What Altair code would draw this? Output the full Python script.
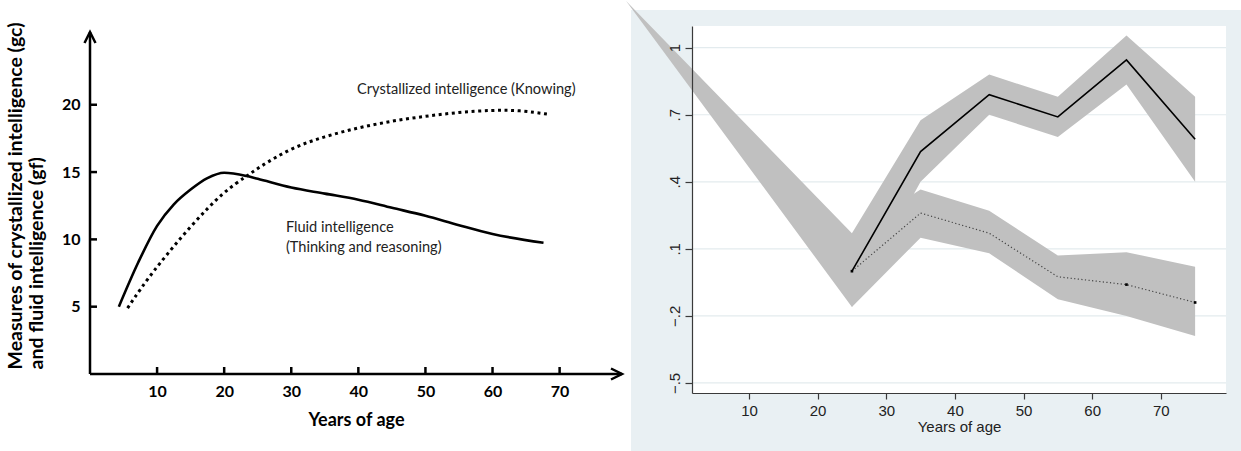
import altair as alt
import pandas as pd

# ---------------- left panel: schematic growth curves ----------------
fluid_age = [4.3, 7.2, 10, 12.5, 15, 17.5, 20, 23.4, 25, 30, 35, 40, 45, 50, 55, 60, 67.6]
fluid_score = [5.0, 8.3, 11.0, 12.6, 13.7, 14.55, 14.95, 14.7, 14.5, 13.85, 13.4, 12.95,
               12.35, 11.75, 11.05, 10.4, 9.75]
cryst_age = [5.6, 7.5, 10, 15, 20, 23.4, 25, 30, 35, 40, 45, 50, 55, 60, 64, 68.5]
cryst_score = [4.9, 6.3, 8.0, 11.0, 13.6, 14.7, 15.3, 16.8, 17.65, 18.3, 18.8, 19.15,
               19.45, 19.6, 19.6, 19.28]

left_x_ticks = [10, 20, 30, 40, 50, 60, 70]
left_y_ticks = [5, 10, 15, 20]

left_notes = ["Crystallized intelligence (Knowing)", "Fluid intelligence", "(Thinking and reasoning)"]
left_note_age = [39.8, 29.2, 29.2]
left_note_score = [21.1, 10.85, 9.36]

left_x_end = 79.3    # arrow tip of the age axis
left_y_end = 25.4    # arrow tip of the score axis

# ---------------- right panel: estimates with confidence bands ----------------
age_groups = [25, 35, 45, 55, 65, 75]
solid_est = [0.0, 0.535, 0.79, 0.69, 0.945, 0.59]
solid_lo = [-0.16, 0.40, 0.70, 0.60, 0.835, 0.40]
solid_hi = [0.17, 0.675, 0.88, 0.78, 1.055, 0.78]
dot_est = [0.0, 0.26, 0.17, -0.025, -0.06, -0.14]
dot_lo = [-0.16, 0.15, 0.08, -0.125, -0.20, -0.29]
dot_hi = [0.17, 0.365, 0.27, 0.07, 0.085, 0.02]
band_origin_age = -7.9
band_origin_value = 1.209

right_x_ticks = [10, 20, 30, 40, 50, 60, 70]
right_y_ticks = [-0.5, -0.2, 0.1, 0.4, 0.7, 1.0]

HUM = "Lato"
SANS = "Liberation Sans"
BAND = "#c0c0c0"
PANEL_BG = "#e9f0f3"
GRID = "#e3ebee"
AXIS = "#3a3a3a"

# ======================= left chart =======================
LW, LH = 532, 348
lx = alt.Scale(domain=[0, 79.3], nice=False, zero=False)
ly = alt.Scale(domain=[0, 25.85], nice=False, zero=False)

left_xaxis = alt.Axis(values=left_x_ticks, domain=False, ticks=False, grid=False,
                      labelFont=HUM, labelFontWeight="bold", labelFontSize=16,
                      labelColor="black", labelPadding=9,
                      title="Years of age", titleFont=HUM, titleFontWeight="bold",
                      titleFontSize=18, titleColor="black", titlePadding=12)
left_yaxis = alt.Axis(values=left_y_ticks, domain=False, ticks=False, grid=False,
                      labelFont=HUM, labelFontWeight="bold", labelFontSize=16,
                      labelColor="black", labelPadding=10,
                      title=["Measures of crystallized intelligence (gc)",
                             "and fluid intelligence (gf)"],
                      titleFont=HUM, titleFontWeight="bold", titleFontSize=19.5,
                      titleColor="black", titleAngle=270, titleAlign="left",
                      titleBaseline="top", titleX=-84, titleY=343, titleLineHeight=21)

LX = alt.X("age:Q", scale=lx, axis=left_xaxis)
LY = alt.Y("score:Q", scale=ly, axis=left_yaxis)

fluid = pd.DataFrame({"age": fluid_age, "score": fluid_score})
cryst = pd.DataFrame({"age": cryst_age, "score": cryst_score})
notes = pd.DataFrame({"age": left_note_age, "score": left_note_score, "label": left_notes})

one_row = pd.DataFrame({"k": [0]})
anchor = alt.Chart(one_row).mark_rect(color="white").encode(
    x=alt.value(-90), x2=alt.value(-89), y=alt.value(-26), y2=alt.value(-25))

fluid_line = alt.Chart(fluid).mark_line(color="black", strokeWidth=2.6,
                                        interpolate="monotone").encode(x=LX, y=LY)
cryst_line = alt.Chart(cryst).mark_line(color="black", strokeWidth=3, strokeDash=[3, 3.6],
                                        interpolate="basis").encode(x=LX, y=LY)

x_line = alt.Chart(pd.DataFrame({"age": [0], "age_end": [left_x_end], "score": [0]})).mark_rule(
    color="black", strokeWidth=2.5).encode(x=LX, x2="age_end:Q", y=LY)
y_line = alt.Chart(pd.DataFrame({"age": [0], "score": [0], "score_end": [left_y_end]})).mark_rule(
    color="black", strokeWidth=2.5).encode(x=LX, y=LY, y2="score_end:Q")

x_arrow = alt.Chart(pd.DataFrame({"age": [left_x_end], "score": [0]})).mark_point(
    shape="M-1,-0.5L0,0L-1,0.5", size=484, filled=False, color="black",
    strokeWidth=2.5, opacity=1).encode(x=LX, y=LY)
y_arrow = alt.Chart(pd.DataFrame({"age": [0], "score": [left_y_end]})).mark_point(
    shape="M-0.5,1L0,0L0.5,1", size=484, filled=False, color="black",
    strokeWidth=2.5, opacity=1).encode(x=LX, y=LY)

x_ticks = alt.Chart(pd.DataFrame({"age": left_x_ticks})).mark_rule(
    color="black", strokeWidth=2.5).encode(x=LX, y=alt.value(LH), y2=alt.value(LH - 7))
y_ticks = alt.Chart(pd.DataFrame({"score": left_y_ticks})).mark_rule(
    color="black", strokeWidth=2.5).encode(y=LY, x=alt.value(0), x2=alt.value(7))

note_text = alt.Chart(notes).mark_text(align="left", baseline="middle", font=HUM,
                                       fontSize=14.6, color="#222222").encode(
    x=LX, y=LY, text="label:N")

left = alt.layer(anchor, x_line, y_line, x_ticks, y_ticks, x_arrow, y_arrow,
                 cryst_line, fluid_line, note_text).properties(width=LW, height=LH)

# ======================= right chart =======================
RW, RH = 534, 367
rx = alt.Scale(domain=[1.7, 79.5], nice=False, zero=False)
ry = alt.Scale(domain=[-0.545, 1.097], nice=False, zero=False)

right_xaxis = alt.Axis(values=right_x_ticks, grid=False, zindex=1,
                       domainColor=AXIS, domainWidth=1.2, tickColor=AXIS, tickWidth=1.2,
                       tickSize=6, labelFont=SANS, labelFontSize=15, labelColor="#222222",
                       labelPadding=4, title="Years of age", titleFont=SANS,
                       titleFontSize=15, titleFontWeight="normal", titleColor="#222222",
                       titlePadding=1)
right_yaxis = alt.Axis(values=right_y_ticks, grid=False, zindex=1,
                       domainColor=AXIS, domainWidth=1.2, tickColor=AXIS, tickWidth=1.2,
                       tickSize=7, labelFont=SANS, labelFontSize=15, labelColor="#222222",
                       labelAngle=270, labelAlign="center", labelBaseline="alphabetic",
                       labelPadding=6,
                       labelExpr="datum.value == 1 ? '1' : replace(format(datum.value, '.1f'), '0.', '.')",
                       title=None)

RX = alt.X("age:Q", scale=rx, axis=right_xaxis)


def RY(field):
    return alt.Y(field, scale=ry, axis=right_yaxis)


solid_band_df = pd.DataFrame({"age": [band_origin_age] + age_groups,
                              "lo": [band_origin_value] + solid_lo,
                              "hi": [band_origin_value] + solid_hi})
dot_band_df = pd.DataFrame({"age": age_groups, "lo": dot_lo, "hi": dot_hi})
solid_df = pd.DataFrame({"age": age_groups, "est": solid_est})
dot_df = pd.DataFrame({"age": age_groups, "est": dot_est})
ends_df = pd.DataFrame({"age": [age_groups[0], age_groups[4], age_groups[5]],
                        "est": [solid_est[0], dot_est[4], dot_est[5]]})

panel_bg = alt.Chart(one_row).mark_rect(color=PANEL_BG).encode(
    x=alt.value(-61), x2=alt.value(549), y=alt.value(-16), y2=alt.value(425))
plot_bg = alt.Chart(one_row).mark_rect(color="white").encode(
    x=alt.value(0), x2=alt.value(RW), y=alt.value(0), y2=alt.value(RH))
grid = alt.Chart(pd.DataFrame({"est": right_y_ticks})).mark_rule(
    color=GRID, strokeWidth=1.2).encode(y=RY("est:Q"), x=alt.value(0), x2=alt.value(RW))

solid_band = alt.Chart(solid_band_df).mark_area(color=BAND, opacity=1).encode(
    x=RX, y=RY("lo:Q"), y2="hi:Q")
dot_band = alt.Chart(dot_band_df).mark_area(color=BAND, opacity=1).encode(
    x=RX, y=RY("lo:Q"), y2="hi:Q")
solid_line = alt.Chart(solid_df).mark_line(color="black", strokeWidth=1.6).encode(
    x=RX, y=RY("est:Q"))
dot_line = alt.Chart(dot_df).mark_line(color="#444444", strokeWidth=1.2,
                                       strokeDash=[1.2, 2.4]).encode(x=RX, y=RY("est:Q"))
ends = alt.Chart(ends_df).mark_square(color="black", size=7, opacity=1).encode(
    x=RX, y=RY("est:Q"))

right = alt.layer(panel_bg, plot_bg, grid, solid_band, dot_band, solid_line, dot_line,
                  ends).properties(width=RW, height=RH)

chart = alt.hconcat(left, right, spacing=70, bounds="flush").properties(
    padding=0, background="white"
).configure_view(stroke=None)

chart.save("out.html", embed_options={"renderer": "svg", "actions": False})
